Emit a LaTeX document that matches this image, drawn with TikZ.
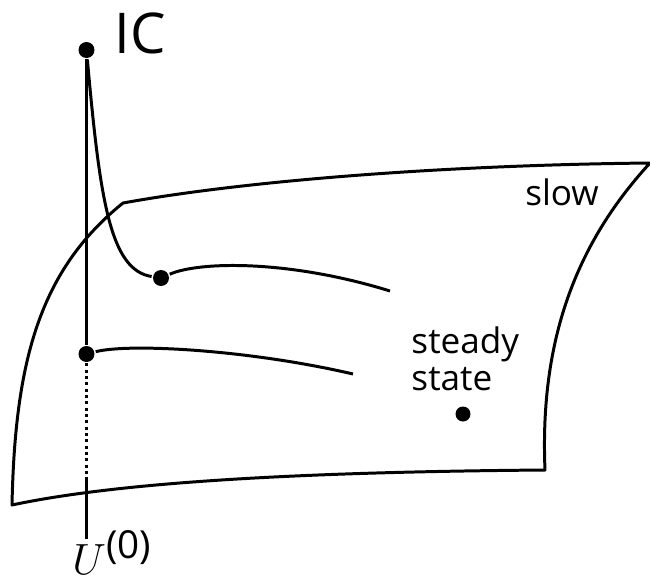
\documentclass[tikz,border=0pt]{standalone}
\usepackage{fontspec}
\setsansfont{Open Sans}
\usetikzlibrary{positioning}

\tikzset{
  dot/.style={circle, fill=black, inner sep=0pt, minimum size=0.32cm},
  lbl/.style={font=\sffamily\fontsize{20}{21}\selectfont, inner sep=0pt, align=left},
  dotted line/.style={dash pattern=on 1.7pt off 1.9pt, line width=1.8pt}
}

\begin{document}
\begin{tikzpicture}[x=0.02cm, y=-0.02cm, line width=1.7pt, line join=round]
        \useasboundingbox (0,0) rectangle (650,582);
        \coordinate (nw) at (123,203);
        \coordinate (ne) at (650,163);
        \coordinate (se) at (545,470);
        \coordinate (sw) at (12,505);
        \draw (nw) .. controls (250,180) and (450,165) .. (ne)
              .. controls (570,250) and (540,350) .. (se)
              .. controls (300,472) and (120,482) .. (sw)
              .. controls (15,360) and (40,270) .. cycle;
        \node[dot] (ic) at (86.5,50) {};
        \node[dot] (p1) at (161,278) {};
        \node[dot] (p0) at (86.5,354) {};
        \node[dot, minimum size=0.3cm] (ss) at (463,414) {};
        \coordinate (e1) at (390,291);
        \coordinate (e0) at (353,374);
        \coordinate (dotend) at (86.5,477);
        \coordinate (base) at (86.5,539);
        \draw (ic) -- (p0);
        \draw[dotted line] (p0) -- (dotend);
        \draw (dotend) -- (base);
        \draw (ic) .. controls (100,200) and (110,270) .. (p1);
        \draw (p1) .. controls (200,261) and (290,260) .. (e1);
        \draw (p0) .. controls (130,343) and (250,350) .. (e0);
        \node[lbl, font=\sffamily\fontsize{32}{34}\selectfont] (iclab) at (140,33) {IC};
        \node[lbl] (slowlab) at (562,192) {slow};
        \node[lbl, anchor=south west] (sslab) at (410,392) {steady\\state};
        \node[anchor=base west, inner sep=0pt] (ulab) at (71,574)
          {{\fontsize{26}{26}\selectfont$U$}\raisebox{9pt}{\sffamily\fontsize{22}{22}\selectfont(0)}};
\end{tikzpicture}
\end{document}
